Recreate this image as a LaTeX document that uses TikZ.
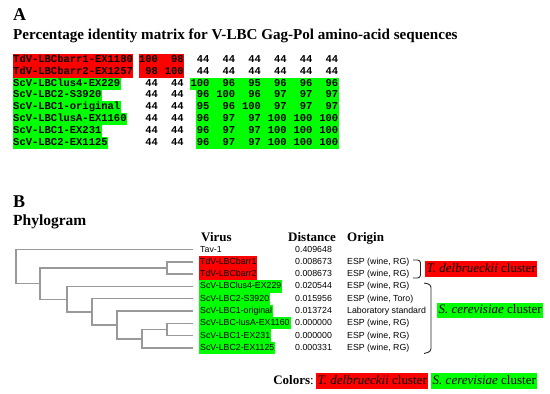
\documentclass[tikz,border=0pt]{standalone}
\usepackage{fontspec}
\setmainfont{Liberation Serif}
\setsansfont{Liberation Sans}
\setmonofont{Liberation Mono}
\usetikzlibrary{positioning,backgrounds}

\begin{document}
\begin{tikzpicture}[x=1pt,y=-1pt,
  panel/.style={font=\bfseries\fontsize{18}{20}\selectfont, anchor=base west, inner sep=0pt},
  head/.style={font=\bfseries\fontsize{15.5}{18}\selectfont, anchor=base west, inner sep=0pt},
  mlab/.style={font=\ttfamily\bfseries\fontsize{10.5}{12}\selectfont, anchor=west,
    inner xsep=0.5pt, inner ysep=0.9pt, text height=7.5pt, text depth=2.5pt},
  mnum/.style={mlab, anchor=east, inner xsep=0.3pt},
  colhead/.style={font=\bfseries\fontsize{13}{15}\selectfont, anchor=base west, inner sep=0pt},
  leaf/.style={font=\sffamily\fontsize{8.8}{11}\selectfont, anchor=west,
    inner xsep=1pt, inner ysep=1.65pt, text height=7pt, text depth=2pt},
  branch/.style={draw=black!40, line width=1.5pt},
  clubox/.style={font=\fontsize{13}{15}\selectfont, inner xsep=1.5pt, inner ysep=1.3pt,
    text height=9.5pt, text depth=3pt},
  brak/.style={draw=black!85, line width=0.9pt, rounded corners=3pt}]
  \useasboundingbox (0,0) rectangle (550,394);

  % panel A: identity matrix
  \node[panel] (A) at (13,20) {A};
  \node[head, font=\bfseries\fontsize{15.1}{18}\selectfont] (mtitle) at (13,39)
    {Percentage identity matrix for V-LBC Gag-Pol amino-acid sequences};
  \foreach \lab/\hl/\vals [count=\i] in {
      TdV-LBCbarr1-EX1180/red/{100,98,44,44,44,44,44,44},
      TdV-LBCbarr2-EX1257/red/{98,100,44,44,44,44,44,44},
      ScV-LBClus4-EX229/green/{44,44,100,96,95,96,96,96},
      ScV-LBC2-S3920/green/{44,44,96,100,96,97,97,97},
      ScV-LBC1-original/green/{44,44,95,96,100,97,97,97},
      ScV-LBClusA-EX1160/green/{44,44,96,97,97,100,100,100},
      ScV-LBC1-EX231/green/{44,44,96,97,97,100,100,100},
      ScV-LBC2-EX1125/green/{44,44,96,97,97,100,100,100}}
  {
    \node[mlab, fill=\hl] (lab\i) at (12.5,{48.2+11.8*\i}) {\lab};
    \foreach \v [count=\j] in \vals
      \node[mnum] (m\i-\j) at ({132.8+25.75*\j},{48.2+11.8*\i}) {\v};
  }
  % highlighted blocks
  \begin{scope}[on background layer]
    \fill[red]   (m1-1.north west) rectangle (m2-2.south east);
    \fill[green] (m3-3.north west) rectangle (m3-8.south east);
    \fill[green] (m4-3.north west) rectangle (m8-8.south east);
  \end{scope}

  % panel B: phylogram
  \node[panel] (B) at (13,207) {B};
  \node[head] (ptitle) at (13,225) {Phylogram};
  \node[colhead] (hvir) at (201,241) {Virus};
  \node[colhead] (hdist) at (288,241) {Distance};
  \node[colhead] (horig) at (347,241) {Origin};
  \foreach \nm/\hl/\dist/\orig [count=\i] in {
      Tav-1/none/0.409648/{},
      TdV-LBCbarr1/red/0.008673/{ESP (wine, RG)},
      TdV-LBCbarr2/red/0.008673/{ESP (wine, RG)},
      ScV-LBClus4-EX229/green/0.020544/{ESP (wine, RG)},
      ScV-LBC2-S3920/green/0.015956/{ESP (wine, Toro)},
      ScV-LBC1-original/green/0.013724/{Laboratory standard},
      ScV-LBC-lusA-EX1160/green/0.000000/{ESP (wine, RG)},
      ScV-LBC1-EX231/green/0.000000/{ESP (wine, RG)},
      ScV-LBC2-EX1125/green/0.000331/{ESP (wine, RG)}}
  {
    \coordinate (t\i) at (193,{237.2+12.3*\i});
    \node[leaf, fill=\hl] (v\i) at (199,{237.2+12.3*\i}) {\nm};
    \node[leaf] (d\i) at (294,{237.2+12.3*\i}) {\dist};
    \node[leaf] (o\i) at (346,{237.2+12.3*\i}) {\orig};
  }
  % inner nodes of the tree
  \coordinate (r) at (16,266.6);
  \coordinate (a) at (40,283.7);
  \coordinate (b) at (167,268.15);
  \coordinate (c) at (67,299.3);
  \coordinate (d) at (92,312);
  \coordinate (e) at (117,325.05);
  \coordinate (f) at (142,338.9);
  \coordinate (g) at (167,329.65);
  \draw[branch] (r) |- (t1) (r) |- (a)
    (a) |- (b) (a) |- (c)
    (b) |- (t2) (b) |- (t3)
    (c) |- (t4) (c) |- (d)
    (d) |- (t5) (d) |- (e)
    (e) |- (t6) (e) |- (f)
    (f) |- (g) (f) |- (t9)
    (g) |- (t7) (g) |- (t8);

  % clusters
  \draw[brak] (413,260) -- (420.5,260) -- (420.5,278) -- (413,278);
  \draw[brak] (424,283) -- (431,284.5) -- (431,351.5) -- (424,353.5);
  \node[clubox, fill=red, anchor=west] (tdel) at (425,269) {\textit{T. delbrueckii} cluster};
  \node[clubox, fill=green, anchor=west] (scer) at (437,310.5) {\textit{S. cerevisiae} cluster};

  % legend
  \node[clubox, anchor=east, inner xsep=0pt] (colors) at (314,381) {\textbf{Colors}:};
  \node[clubox, fill=red, right=2pt of colors] (legT) {\textit{T. delbrueckii} cluster};
  \node[clubox, fill=green, right=2.5pt of legT] (legS) {\textit{S. cerevisiae} cluster};
\end{tikzpicture}
\end{document}
